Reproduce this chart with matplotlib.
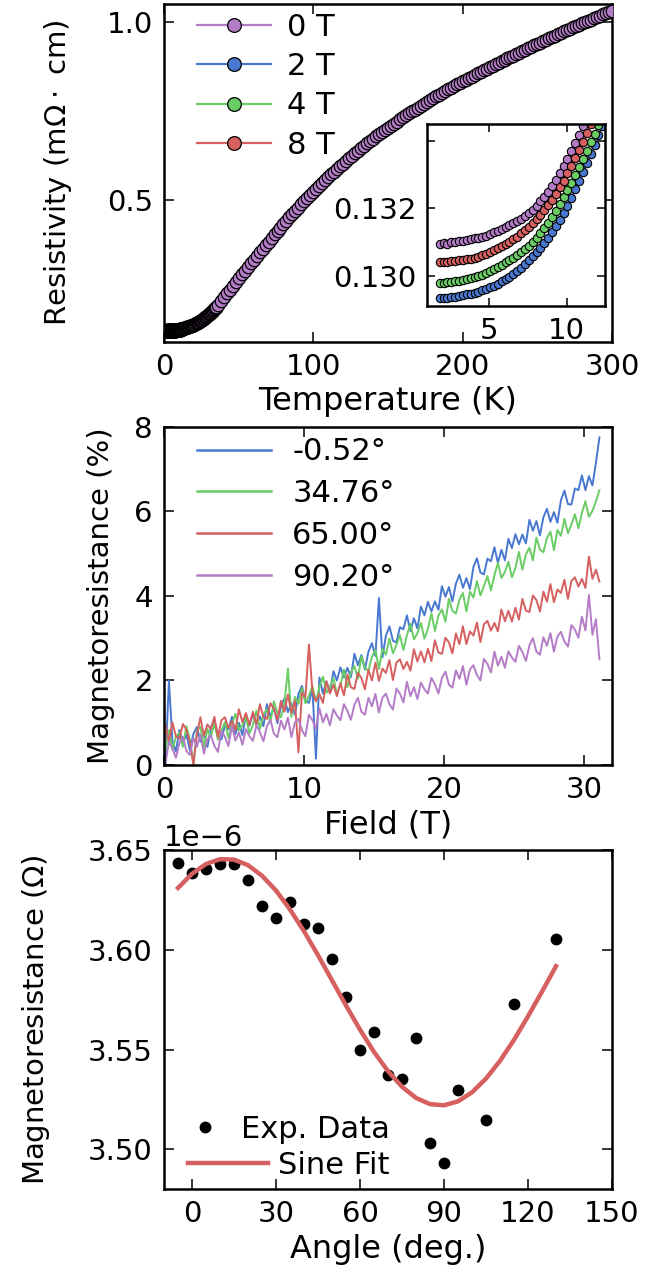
import numpy as np
import matplotlib
matplotlib.use("Agg")
import matplotlib.pyplot as plt

# colours (old seaborn "muted")
C_BLUE = "#4878CF"
C_GREEN = "#6ACC65"
C_RED = "#D65F5F"
C_PURPLE = "#B47CC7"

# ---------------- panel 1: resistivity vs temperature ----------------
# low temperature part (also used in the inset), 1.8 K .. 12.3 K
T_low = np.linspace(1.8, 12.3, 43)
rho_0T_low = [0.13093, 0.13096, 0.13095, 0.13099, 0.13100, 0.13102, 0.13104, 0.13106, 0.13108,
              0.13111, 0.13113, 0.13116, 0.13119, 0.13123, 0.13128, 0.13133, 0.13138, 0.13144,
              0.13150, 0.13156, 0.13162, 0.13169, 0.13177, 0.13186, 0.13196, 0.13207, 0.13220,
              0.13234, 0.13249, 0.13265, 0.13284, 0.13304, 0.13325, 0.13347, 0.13370, 0.13393,
              0.13418, 0.13444, 0.13471, 0.13499, 0.13528, 0.13558, 0.13589]
rho_2T_low = [0.12933, 0.12934, 0.12935, 0.12937, 0.12938, 0.12940, 0.12942, 0.12944, 0.12946,
              0.12949, 0.12952, 0.12956, 0.12960, 0.12965, 0.12970, 0.12976, 0.12983, 0.12990,
              0.12997, 0.13005, 0.13014, 0.13024, 0.13034, 0.13045, 0.13057, 0.13069, 0.13082,
              0.13096, 0.13111, 0.13128, 0.13146, 0.13166, 0.13186, 0.13208, 0.13231, 0.13256,
              0.13282, 0.13308, 0.13335, 0.13362, 0.13389, 0.13416, 0.13443]
rho_4T_low = [0.12977, 0.12978, 0.12980, 0.12981, 0.12983, 0.12985, 0.12987, 0.12989, 0.12992,
              0.12995, 0.12999, 0.13003, 0.13008, 0.13014, 0.13020, 0.13026, 0.13032, 0.13039,
              0.13046, 0.13053, 0.13061, 0.13069, 0.13079, 0.13089, 0.13100, 0.13112, 0.13126,
              0.13141, 0.13157, 0.13174, 0.13193, 0.13212, 0.13233, 0.13254, 0.13276, 0.13299,
              0.13322, 0.13346, 0.13370, 0.13395, 0.13420, 0.13446, 0.13472]
rho_8T_low = [0.13039, 0.13040, 0.13041, 0.13042, 0.13043, 0.13045, 0.13046, 0.13048, 0.13050,
              0.13053, 0.13056, 0.13060, 0.13065, 0.13070, 0.13075, 0.13081, 0.13087, 0.13094,
              0.13101, 0.13108, 0.13116, 0.13125, 0.13134, 0.13144, 0.13155, 0.13167, 0.13180,
              0.13194, 0.13209, 0.13225, 0.13243, 0.13262, 0.13282, 0.13303, 0.13325, 0.13348,
              0.13372, 0.13397, 0.13423, 0.13450, 0.13478, 0.13507, 0.13537]

# 0 T above 12.3 K
T_mid = np.arange(12.5, 35.1, 0.5)
rho_0T_mid = [0.1362, 0.1369, 0.1376, 0.1383, 0.1389, 0.1396, 0.1403, 0.1410, 0.1417, 0.1424,
              0.1431, 0.1439, 0.1447, 0.1455, 0.1464, 0.1474, 0.1485, 0.1496, 0.1508, 0.1520,
              0.1532, 0.1545, 0.1558, 0.1572, 0.1586, 0.1600, 0.1615, 0.1630, 0.1645, 0.1661,
              0.1677, 0.1693, 0.1710, 0.1727, 0.1745, 0.1763, 0.1782, 0.1801, 0.1821, 0.1842,
              0.1863, 0.1885, 0.1907, 0.1930, 0.1953, 0.1977]
T_high = np.arange(36, 301, 2)
rho_0T_high = [0.2030, 0.2138, 0.2246, 0.2354, 0.2461, 0.2568, 0.2675, 0.2781, 0.2887, 0.2992,
               0.3097, 0.3202, 0.3306, 0.3410, 0.3513, 0.3615, 0.3716, 0.3816, 0.3916, 0.4015,
               0.4113, 0.4210, 0.4306, 0.4402, 0.4496, 0.4590, 0.4682, 0.4774, 0.4864, 0.4954,
               0.5042, 0.5130, 0.5216, 0.5302, 0.5386, 0.5469, 0.5551, 0.5631, 0.5711, 0.5789,
               0.5866, 0.5942, 0.6016, 0.6090, 0.6163, 0.6235, 0.6306, 0.6376, 0.6446, 0.6515,
               0.6583, 0.6650, 0.6716, 0.6779, 0.6841, 0.6902, 0.6963, 0.7024, 0.7083, 0.7142,
               0.7201, 0.7259, 0.7316, 0.7373, 0.7429, 0.7484, 0.7539, 0.7594, 0.7647, 0.7700,
               0.7753, 0.7805, 0.7856, 0.7907, 0.7957, 0.8006, 0.8055, 0.8104, 0.8151, 0.8198,
               0.8245, 0.8291, 0.8336, 0.8381, 0.8425, 0.8469, 0.8513, 0.8556, 0.8599, 0.8641,
               0.8683, 0.8725, 0.8766, 0.8809, 0.8852, 0.8894, 0.8936, 0.8978, 0.9020, 0.9062,
               0.9103, 0.9145, 0.9186, 0.9227, 0.9267, 0.9308, 0.9348, 0.9388, 0.9428, 0.9468,
               0.9507, 0.9547, 0.9586, 0.9625, 0.9663, 0.9702, 0.9740, 0.9778, 0.9816, 0.9854,
               0.9891, 0.9929, 0.9966, 1.0003, 1.0039, 1.0076, 1.0112, 1.0148, 1.0184, 1.0220,
               1.0255, 1.0291, 1.0326]

T_0T = np.concatenate([T_low, T_mid, T_high])
rho_0T = np.concatenate([rho_0T_low, rho_0T_mid, rho_0T_high])

# ---------------- panel 2: magnetoresistance vs field ----------------
field = np.arange(0.1, 31.15, 0.25)
mr_m052 = [0.05, 2.00, 0.57, 0.32, 0.83, 0.53, 0.72, 0.34, 0.74, 0.90, 0.55, 0.74, 0.43, 0.90,
           1.07, 0.69, 0.61, 0.94, 0.84, 1.14, 0.73, 1.00, 0.71, 1.19, 0.93, 1.22, 0.95, 1.15,
           0.92, 1.44, 1.15, 1.35, 0.99, 1.39, 1.58, 1.25, 1.46, 1.19, 1.68, 1.87, 1.52, 1.47,
           1.82, 0.15, 2.07, 1.69, 1.98, 1.72, 2.22, 2.00, 2.31, 2.07, 2.30, 2.08, 2.63, 2.36,
           2.60, 2.26, 2.68, 2.88, 2.58, 3.95, 2.55, 3.06, 3.28, 2.94, 2.90, 3.26, 3.21, 3.54,
           3.17, 3.47, 3.23, 3.75, 3.54, 3.86, 3.63, 3.87, 3.67, 4.23, 3.98, 4.21, 3.87, 4.29,
           4.50, 4.19, 4.42, 4.16, 4.68, 4.89, 4.55, 4.51, 4.88, 4.82, 5.15, 4.78, 5.09, 4.84,
           5.35, 5.13, 5.46, 5.22, 5.45, 5.24, 5.80, 5.54, 5.77, 5.43, 5.86, 6.06, 5.75, 5.98,
           5.73, 6.26, 6.49, 6.17, 6.16, 6.54, 6.50, 6.85, 6.50, 6.83, 6.61, 7.14, 7.75]
mr_3476 = [0.35, 0.83, 0.36, 0.67, 0.77, 0.43, 0.92, 0.60, 0.00, 0.81, 0.91, 0.42, 0.85, 0.66,
           0.99, 0.60, 0.81, 1.02, 0.64, 0.97, 1.21, 0.82, 0.94, 1.15, 0.75, 0.94, 1.29, 0.85,
           1.19, 1.32, 1.00, 1.51, 1.22, 1.13, 1.46, 2.28, 1.14, 1.61, 1.45, 1.82, 1.46, 1.64,
           1.86, 1.50, 1.84, 2.09, 1.71, 1.84, 2.06, 1.68, 1.89, 2.26, 1.84, 2.19, 2.34, 2.04,
           2.57, 2.30, 2.23, 2.56, 2.72, 2.27, 2.75, 2.61, 2.99, 2.64, 2.84, 3.07, 2.72, 3.07,
           3.34, 2.97, 3.12, 3.36, 2.99, 3.21, 3.59, 3.17, 3.53, 3.68, 3.39, 3.93, 3.65, 3.58,
           3.91, 4.07, 3.63, 4.10, 3.96, 4.35, 4.01, 4.23, 4.47, 4.13, 4.49, 4.78, 4.42, 4.57,
           4.81, 4.44, 4.66, 5.04, 4.62, 4.98, 5.14, 4.84, 5.38, 5.10, 5.03, 5.37, 5.52, 5.08,
           5.56, 5.42, 5.82, 5.48, 5.69, 5.93, 5.60, 5.96, 6.24, 5.87, 6.01, 6.23, 6.50]
mr_6500 = [0.95, 0.55, 1.01, 0.68, 0.62, 0.97, 0.83, 0.54, 0.02, 0.73, 1.13, 0.69, 0.96, 0.85,
           1.14, 0.66, 1.06, 1.13, 0.88, 1.04, 0.82, 1.32, 1.01, 1.23, 0.95, 1.26, 0.96, 1.44,
           1.13, 1.09, 1.46, 1.34, 1.06, 1.52, 1.26, 1.67, 1.23, 1.52, 0.30, 1.71, 1.61, 2.85,
           1.74, 1.51, 1.68, 1.47, 1.98, 1.69, 1.90, 1.63, 1.94, 1.65, 2.14, 1.84, 1.80, 2.18,
           2.06, 1.79, 2.25, 2.00, 2.42, 1.99, 2.28, 2.18, 2.48, 2.01, 2.42, 2.50, 2.27, 2.44,
           2.23, 2.74, 2.45, 2.69, 2.43, 2.75, 2.46, 2.95, 2.66, 2.63, 3.01, 2.90, 2.64, 3.11,
           2.86, 3.28, 2.86, 3.16, 3.06, 3.37, 2.91, 3.33, 3.41, 3.18, 3.36, 3.16, 3.68, 3.40,
           3.65, 3.39, 3.72, 3.44, 3.93, 3.65, 3.62, 4.01, 3.90, 3.63, 4.10, 3.86, 4.28, 3.85,
           4.15, 4.07, 4.38, 3.93, 4.35, 4.44, 4.22, 4.40, 4.19, 4.93, 4.40, 4.62, 4.34]
mr_9020 = [0.02, 0.56, 0.39, 0.17, 0.52, 0.67, 0.33, 0.24, 0.64, 0.43, 0.72, 0.27, 0.61, 0.70,
           0.45, 0.31, 0.81, 0.67, 0.45, 0.92, 0.58, 0.77, 0.48, 0.85, 0.68, 0.57, 0.94, 0.78,
           0.56, 0.92, 1.07, 0.74, 0.66, 1.05, 0.84, 1.12, 0.66, 1.01, 1.09, 0.83, 0.68, 1.19,
           1.06, 0.86, 1.34, 1.01, 1.21, 0.94, 1.32, 1.17, 1.06, 1.44, 1.28, 1.07, 1.43, 1.59,
           1.26, 1.19, 1.59, 1.39, 1.68, 1.24, 1.59, 1.69, 1.44, 1.31, 1.81, 1.69, 1.48, 1.97,
           1.63, 1.84, 1.56, 1.95, 1.79, 1.69, 2.06, 1.91, 1.69, 2.06, 2.21, 1.90, 1.83, 2.24,
           2.04, 2.34, 1.90, 2.26, 2.36, 2.13, 2.00, 2.51, 2.39, 2.19, 2.68, 2.35, 2.56, 2.30,
           2.69, 2.54, 2.44, 2.82, 2.67, 2.46, 2.83, 3.00, 2.68, 2.61, 3.02, 2.82, 3.12, 2.68,
           3.04, 3.15, 2.92, 2.80, 3.31, 3.20, 3.01, 3.51, 3.18, 4.02, 3.08, 3.45, 2.50]

# ---------------- panel 3: magnetoresistance vs angle ----------------
angle = [-5, 0, 5, 10, 15, 20, 25, 30, 35, 40, 45, 50, 55, 60, 65, 70, 75, 80, 85, 90,
         95, 105, 115, 130]
mr_angle = [3.6436, 3.6386, 3.6406, 3.6428, 3.6428, 3.6352, 3.6218, 3.6159, 3.6238, 3.6131,
            3.6107, 3.5953, 3.5762, 3.5500, 3.5589, 3.5374, 3.5352, 3.5559, 3.5030, 3.4931,
            3.5297, 3.5149, 3.5727, 3.6055]
fit_angle = np.arange(-5, 131, 5)
fit_mr = [3.6310, 3.6381, 3.6430, 3.6454, 3.6452, 3.6424, 3.6371, 3.6297, 3.6202, 3.6093,
          3.5973, 3.5847, 3.5721, 3.5600, 3.5488, 3.5392, 3.5314, 3.5258, 3.5227, 3.5221,
          3.5241, 3.5286, 3.5355, 3.5444, 3.5549, 3.5667, 3.5791, 3.5918]

plt.rcParams.update({
    "font.family": "DejaVu Sans",
    "font.size": 21,
    "axes.linewidth": 1.8,
    "xtick.direction": "in",
    "ytick.direction": "in",
    "xtick.top": True,
    "ytick.right": True,
    "xtick.major.size": 7,
    "ytick.major.size": 7,
    "xtick.major.width": 1.1,
    "ytick.major.width": 1.1,
    "xtick.major.pad": 8,
    "ytick.major.pad": 8,
    "xtick.labelsize": 21,
    "ytick.labelsize": 21,
    "axes.labelsize": 23,
    "legend.fontsize": 22,
})

fig = plt.figure(figsize=(6.46, 12.7), dpi=100)

# ---- top: resistivity ----
ax1 = fig.add_axes([0.2539, 0.7309, 0.6935, 0.2661])
mk = dict(marker="o", mec="k", mew=0.9, lw=1.6)
ax1.plot(T_0T, rho_0T, color=C_PURPLE, ms=9, label="0 T", zorder=3, **mk)
ax1.plot(T_low, rho_2T_low, color=C_BLUE, ms=9, label="2 T", zorder=2, **mk)
ax1.plot(T_low, rho_4T_low, color=C_GREEN, ms=9, label="4 T", zorder=2, **mk)
ax1.plot(T_low, rho_8T_low, color=C_RED, ms=9, label="8 T", zorder=2, **mk)
ax1.set_xlim(0, 300)
ax1.set_ylim(0.099, 1.052)
ax1.set_xticks([0, 100, 200, 300])
ax1.set_yticks([0.5, 1.0])
ax1.set_xlabel("Temperature (K)")
ax1.set_ylabel(r"Resistivity (m$\Omega\cdot$ cm)", fontsize=21)
ax1.yaxis.set_label_coords(-0.20, 0.5)
ax1.legend(loc="upper left", frameon=False, numpoints=1, markerscale=1.1,
           handlelength=2.42, handletextpad=0.5, labelspacing=0.34,
           borderaxespad=0, bbox_to_anchor=(0.047, 1.01))

# inset
axin = fig.add_axes([0.6615, 0.7591, 0.2757, 0.1433])
mk_in = dict(marker="o", mec="k", mew=0.8, lw=1.5, ms=6)
axin.plot(T_low, rho_0T_low, color=C_PURPLE, **mk_in)
axin.plot(T_low, rho_2T_low, color=C_BLUE, **mk_in)
axin.plot(T_low, rho_4T_low, color=C_GREEN, **mk_in)
axin.plot(T_low, rho_8T_low, color=C_RED, **mk_in)
axin.set_xlim(1.0, 12.5)
axin.set_ylim(0.1291, 0.1345)
axin.set_xticks([5, 10])
axin.set_yticks([0.130, 0.132, 0.134])
axin.set_yticklabels(["0.130", "0.132", ""])
axin.tick_params(length=6)

# ---- middle: MR vs field ----
ax2 = fig.add_axes([0.2539, 0.3976, 0.6935, 0.2664])
ax2.plot(field, mr_m052, color=C_BLUE, lw=1.4, label="-0.52°")
ax2.plot(field, mr_3476, color=C_GREEN, lw=1.4, label="34.76°")
ax2.plot(field, mr_6500, color=C_RED, lw=1.4, label="65.00°")
ax2.plot(field, mr_9020, color=C_PURPLE, lw=1.4, label="90.20°")
ax2.set_xlim(0, 32)
ax2.set_ylim(0, 8)
ax2.set_xticks([0, 10, 20, 30])
ax2.set_yticks([0, 2, 4, 6, 8])
ax2.set_xlabel("Field (T)")
ax2.set_ylabel("Magnetoresistance (%)", fontsize=21)
ax2.yaxis.set_label_coords(-0.11, 0.5)
leg2 = ax2.legend(loc="upper left", frameon=False, handlelength=2.42,
                  handletextpad=0.69, labelspacing=0.42, borderaxespad=0,
                  bbox_to_anchor=(0.047, 1.005))
for h in leg2.get_lines():
    h.set_linewidth(1.8)

# ---- bottom: MR vs angle ----
ax3 = fig.add_axes([0.2539, 0.0635, 0.6935, 0.2672])
pts, = ax3.plot(np.array(angle), np.array(mr_angle) * 1e-6, "o", color="k",
                ms=7.5, mec="k", label="Exp. Data")
fit, = ax3.plot(fit_angle, np.array(fit_mr) * 1e-6, "-", color=C_RED, lw=3.2,
                label="Sine Fit")
ax3.set_xlim(-10, 150)
ax3.set_ylim(3.48e-6, 3.65e-6)
ax3.set_xticks([0, 30, 60, 90, 120, 150])
ax3.set_yticks([3.50e-6, 3.55e-6, 3.60e-6, 3.65e-6])
ax3.set_xlabel("Angle (deg.)")
ax3.set_ylabel(r"Magnetoresistance ($\Omega$)", fontsize=21)
ax3.yaxis.set_label_coords(-0.25, 0.5)
leg3a = ax3.legend(handles=[pts], loc="lower left", frameon=False, numpoints=1,
                   handlelength=1.0, handletextpad=0.69, borderaxespad=0,
                   bbox_to_anchor=(0.029, 0.098))
ax3.add_artist(leg3a)
ax3.legend(handles=[fit], loc="lower left", frameon=False, handlelength=2.6,
           handletextpad=0.33, borderaxespad=0, bbox_to_anchor=(0.027, -0.008))

fig.savefig("out.png", dpi=100, facecolor="white")
